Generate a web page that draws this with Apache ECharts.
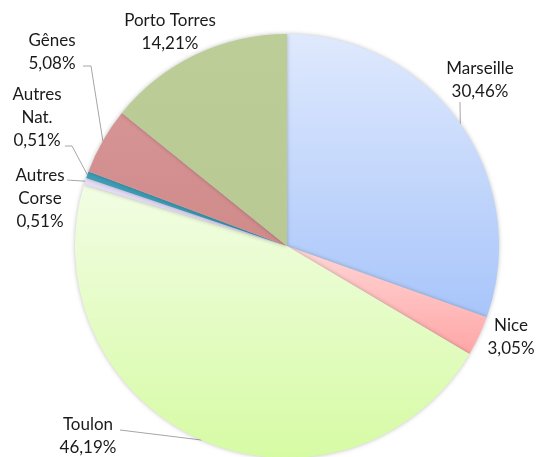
<!DOCTYPE html>
<html>
<head>
<meta charset="utf-8">
<script src="https://cdn.jsdelivr.net/npm/echarts@6/dist/echarts.min.js"></script>
<style>
  html, body { margin: 0; padding: 0; background: #fff; }
  #box { width: 536px; height: 457px; }
</style>
</head>
<body>
<div id="box"></div>
<script>
// données du graphique (parts en %)
const ports = ['Marseille', 'Nice', 'Toulon', 'Autres\nCorse', 'Autres\nNat.', 'Gênes', 'Porto Torres']
const parts = [30.46, 3.05, 46.19, 0.51, 0.51, 5.08, 14.21]
const partLabels = ['30,46%', '3,05%', '46,19%', '0,51%', '0,51%', '5,08%', '14,21%']

// couleurs (haut -> bas du dégradé)
const colors = [
  ['#dfe9fd', '#a8c5fa'],
  ['#ffd6d6', '#ffa6a6'],
  ['#f2fde4', '#d6fba4'],
  ['#e6def6', '#ddd2f2'],
  ['#3f9db6', '#3795ad'],
  ['#d69494', '#d08a8a'],
  ['#bccd97', '#b9c993']
]

// position des étiquettes (texte) et coude du trait
const labelPos = [
  { x: 480, y: 80, bend: null, end: [460, 102] },
  { x: 511, y: 337, bend: null, end: null },
  { x: 88, y: 436, bend: [120, 430], end: [120, 430] },
  { x: 40, y: 199, bend: [67, 180], end: [67, 180] },
  { x: 37, y: 118, bend: [72, 146], end: [65, 146] },
  { x: 52, y: 52, bend: [91, 66], end: [83, 66] },
  { x: 170, y: 32, bend: null, end: null }
]

const box = document.getElementById('box')
const myEcharts = echarts.init(box)

const seriesData = ports.map((name, i) => ({
  name: name,
  value: parts[i],
  pct: partLabels[i],
  itemStyle: {
    color: new echarts.graphic.LinearGradient(0, 0, 0, 1, [
      { offset: 0, color: colors[i][0] },
      { offset: 1, color: colors[i][1] }
    ])
  },
  labelLine: { show: labelPos[i].end !== null }
}))

const options = {
  animation: false,
  series: [{
    type: 'pie',
    center: [287, 246],
    radius: 212,
    startAngle: 90,
    clockwise: true,
    avoidLabelOverlap: false,
    data: seriesData,
    itemStyle: {
      borderWidth: 0,
      shadowBlur: 4,
      shadowColor: 'rgba(0,0,0,0.25)'
    },
    label: {
      show: true,
      position: 'outside',
      overflow: 'none',
      formatter: p => p.name + '\n' + p.data.pct,
      fontFamily: 'Lato',
      fontSize: 17,
      lineHeight: 23,
      color: '#1a1a1a',
      align: 'center'
    },
    labelLine: {
      show: true,
      lineStyle: { color: '#a6a6a6', width: 1 }
    },
    labelLayout: function (params) {
      const i = params.dataIndex
      const lp = labelPos[i]
      const res = { x: lp.x, y: lp.y, align: 'center', verticalAlign: 'middle', hideOverlap: false, moveOverlap: false }
      if (lp.end && params.labelLinePoints) {
        const start = params.labelLinePoints[0]
        if (i === 0) {
          res.labelLinePoints = [start, [start[0], start[1] - 1], lp.end]
        } else {
          res.labelLinePoints = [start, lp.bend, lp.end]
        }
      }
      return res
    }
  }]
}

myEcharts.setOption(options)
</script>
</body>
</html>
